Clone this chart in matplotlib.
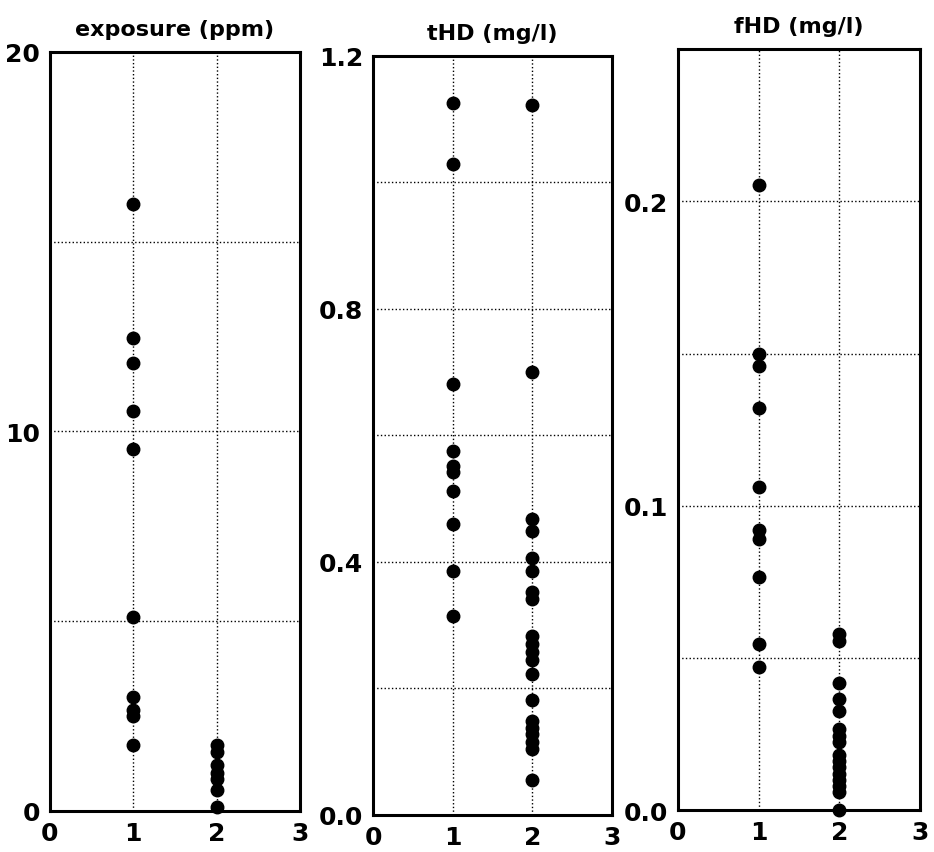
import numpy as np
import matplotlib
matplotlib.use('Agg')
import matplotlib.pyplot as plt
from matplotlib.ticker import MultipleLocator

# data (group 1 and group 2)
exposure_g1 = [16.0, 12.45, 11.8, 10.55, 9.55, 5.1, 3.0, 2.65, 2.5, 1.75]
exposure_g2 = [1.75, 1.55, 1.2, 1.0, 0.85, 0.55, 0.1]

thd_g1 = [1.125, 1.03, 0.681, 0.576, 0.552, 0.542, 0.513, 0.46, 0.386, 0.315]
thd_g2 = [1.122, 0.70, 0.468, 0.449, 0.407, 0.386, 0.352, 0.342, 0.283, 0.27,
          0.258, 0.245, 0.223, 0.181, 0.149, 0.138, 0.128, 0.115, 0.104, 0.055]

fhd_g1 = [0.2055, 0.150, 0.146, 0.132, 0.106, 0.092, 0.089, 0.0765, 0.0545, 0.047]
fhd_g2 = [0.0578, 0.0556, 0.0419, 0.0364, 0.0326, 0.0265, 0.0243, 0.0222,
          0.018, 0.016, 0.014, 0.012, 0.010, 0.008, 0.006, 0.0]

titles = ['exposure (ppm)', 'tHD (mg/l)', 'fHD (mg/l)']
ylims = [(0, 20), (0, 1.2), (0, 0.25)]
major = [10, 0.4, 0.1]
minor = [5, 0.2, 0.05]
ylabels_fmt = ['{:.0f}', '{:.1f}', '{:.1f}']

panels = [(exposure_g1, exposure_g2), (thd_g1, thd_g2), (fhd_g1, fhd_g2)]
rects = [[0.0535, 0.0481, 0.2677, 0.8898],
         [0.3994, 0.0434, 0.2559, 0.8898],
         [0.7259, 0.0492, 0.2591, 0.8920]]

fig = plt.figure(figsize=(9.34, 8.53), dpi=100)

for i in range(3):
    ax = fig.add_axes(rects[i])
    g1, g2 = panels[i]
    ax.plot([1] * len(g1), g1, 'o', color='black', markersize=9, clip_on=False, zorder=3)
    ax.plot([2] * len(g2), g2, 'o', color='black', markersize=9, clip_on=False, zorder=3)
    ax.set_xlim(0, 3)
    ax.set_ylim(*ylims[i])
    ax.set_xticks([0, 1, 2, 3])
    ax.set_xticklabels(['0', '1', '2', '3'])
    ax.yaxis.set_major_locator(MultipleLocator(major[i]))
    ax.yaxis.set_minor_locator(MultipleLocator(minor[i]))
    yt = ax.get_yticks()
    ax.set_yticks(yt)
    ax.set_yticklabels([ylabels_fmt[i].format(v) for v in yt])
    ax.set_ylim(*ylims[i])
    ax.grid(True, which='both', color='black', linestyle=':', linewidth=1.0)
    ax.tick_params(which='both', length=0, pad=7)
    for lab in ax.get_xticklabels() + ax.get_yticklabels():
        lab.set_fontsize(18)
        lab.set_fontweight('bold')
        lab.set_family('DejaVu Sans')
    for s in ax.spines.values():
        s.set_linewidth(2.2)
    ax.set_title(titles[i], fontsize=16, fontweight='bold', pad=12,
                 family=['DejaVu Sans'])

fig.savefig('out.png', dpi=100)
